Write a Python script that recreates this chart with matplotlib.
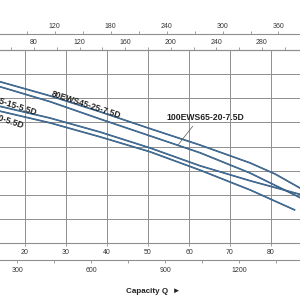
import numpy as np
import matplotlib
matplotlib.use("Agg")
import matplotlib.pyplot as plt
from matplotlib.ticker import MultipleLocator

plt.rcParams['font.family'] = ['Liberation Sans', 'DejaVu Sans']

# Kurvendaten: Q (l/s) gegen Förderhöhe H (m)
q_1 = [11.5, 26.1, 38.3, 50.5, 62.7, 74.9, 81.0, 88.3]
h_1 = [34.0, 30.5, 27.2, 23.7, 20.3, 16.6, 14.3, 10.8]   # 80EWS45-25-7.5D
q_2 = [11.5, 26.1, 38.3, 50.5, 62.7, 74.9, 88.3]
h_2 = [33.0, 29.3, 25.7, 22.2, 18.7, 14.5, 8.9]          # 100EWS65-20-7.5D
q_3 = [11.5, 26.1, 38.3, 50.5, 62.7, 74.9, 88.3]
h_3 = [28.8, 25.9, 23.0, 19.7, 16.0, 12.9, 9.8]          # 65-15-5.5D
q_4 = [11.5, 26.1, 38.3, 50.5, 62.7, 74.9, 85.9]
h_4 = [27.8, 24.9, 22.0, 18.9, 15.1, 11.0, 6.8]          # 20-5.5D

bottom_ticks = [20, 30, 40, 50, 60, 70, 80]
m3h_ticks = [80, 120, 160, 200, 240, 280, 320]
top_ticks = [60, 120, 180, 240, 300, 360]
gpm_ticks = [300, 600, 900, 1200]

line_col = '#4a80b0'
edge_col = '#2a4c6e'
grid_col = '#8f8f8f'
txt_col = '#333333'

fig = plt.figure(figsize=(3, 3), dpi=100)
ax = fig.add_axes([0, 0.19, 1, 0.6433])

for q, h in [(q_1, h_1), (q_2, h_2), (q_3, h_3), (q_4, h_4)]:
    ax.plot(q, h, color=edge_col, lw=1.2, solid_capstyle='butt')
    ax.plot(q, h, color=line_col, lw=0.5, solid_capstyle='butt')

ax.set_xlim(13.9, 87.07)
ax.set_ylim(0, 40)
ax.set_xticks(bottom_ticks)
ax.set_yticks(np.arange(0, 41, 5))
ax.grid(True, color=grid_col, lw=0.7)
ax.set_axisbelow(True)
ax.tick_params(axis='y', left=False, labelleft=False)
ax.tick_params(axis='x', direction='out', length=2.5, width=0.6, color=grid_col,
               labelsize=5, labelcolor=txt_col, pad=2)
for s in ['left', 'right']:
    ax.spines[s].set_visible(False)
for s in ['top', 'bottom']:
    ax.spines[s].set_color(grid_col)
    ax.spines[s].set_linewidth(0.8)

# m3/h Achse am oberen Rand
sec2 = ax.secondary_xaxis('top', functions=(lambda q: q * 3.6, lambda v: v / 3.6))
sec2.set_xticks(m3h_ticks)
sec2.xaxis.set_minor_locator(MultipleLocator(20))
sec2.tick_params(which='both', direction='out', length=2.5, width=0.6, color=grid_col,
                 labelsize=5, labelcolor=txt_col, pad=0.3)
sec2.spines['top'].set_color(grid_col)

# obere Achse
sec1 = ax.secondary_xaxis(1.083, functions=(lambda q: q * 4.4, lambda v: v / 4.4))
sec1.set_xticks(top_ticks)
sec1.xaxis.set_minor_locator(MultipleLocator(30))
sec1.tick_params(which='both', direction='out', length=2.5, width=0.6, color=grid_col,
                 labelsize=5, labelcolor=txt_col, pad=0.3)
sec1.spines['top'].set_color(grid_col)

# untere Zusatzachse
sec3 = ax.secondary_xaxis(-0.088, functions=(lambda q: q * 16.6, lambda v: v / 16.6))
sec3.set_xticks(gpm_ticks)
sec3.xaxis.set_minor_locator(MultipleLocator(150))
sec3.tick_params(which='both', direction='out', length=2.5, width=0.6, color=grid_col,
                 labelsize=5, labelcolor=txt_col, pad=2.5)
sec3.spines['bottom'].set_color(grid_col)

# Beschriftungen
lab_kw = dict(fontsize=6.2, fontweight='bold', color='#222222')
ax.text(35.0, 28.6, '80EWS45-25-7.5D', rotation=-18, ha='center', va='center',
        rotation_mode='anchor', **lab_kw)
ax.text(63.9, 26.1, '100EWS65-20-7.5D', ha='center', va='center', **lab_kw)
ax.plot([60.9, 57.4], [24.2, 20.4], color='#555555', lw=0.5)
ax.text(22.9, 27.0, '80EWS65-15-5.5D', rotation=-18, ha='right', va='center',
        rotation_mode='anchor', **lab_kw)
ax.text(19.6, 24.2, '80EWS65-20-5.5D', rotation=-18, ha='right', va='center',
        rotation_mode='anchor', **lab_kw)

fig.text(0.51, 0.027, 'Capacity Q  \u25ba', ha='center', va='center', fontsize=5.8,
         fontweight='bold', color='#222222')

fig.savefig('out.png', dpi=100)
